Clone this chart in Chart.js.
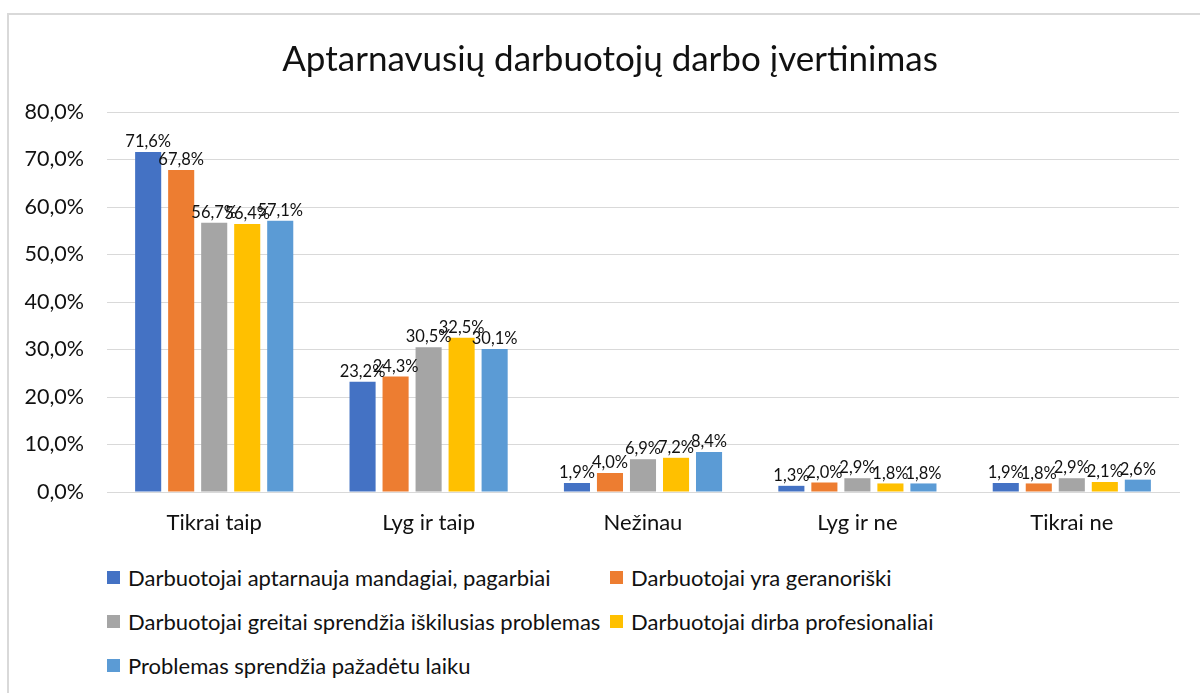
<!DOCTYPE html>
<html lang="lt">
<head>
  <meta charset="UTF-8" />
  <title>Aptarnavusių darbuotojų darbo įvertinimas</title>
  <script src="https://cdn.jsdelivr.net/npm/chart.js"></script>
  <style>
    body {
      margin: 0;
      background: #ffffff;
      font-family: 'Lato', sans-serif;
      overflow: hidden;
    }

    .frame {
      position: absolute;
      left: 7px;
      top: 13px;
      width: 1210px;
      height: 700px;
      border-left: 2px solid #d9d9d9;
      border-top: 2px solid #d9d9d9;
    }

    .chart-box {
      width: 1202px;
      height: 530px;
      position: relative;
    }

    .legend {
      display: grid;
      grid-template-columns: 503px 500px;
      grid-auto-rows: 44px;
      margin-top: 10px;
      padding-left: 98px;
      font-size: 22px;
      color: #111;
    }

    .legend-item {
      display: flex;
      align-items: center;
      white-space: nowrap;
    }

    .legend-item span.box {
      width: 13px;
      height: 13px;
      margin-right: 8px;
      flex: none;
    }
  </style>
</head>
<body>
  <div class="frame">
    <div class="chart-box"><canvas id="ratingChart"></canvas></div>
    <div class="legend" id="legend"></div>
  </div>

  <script>
    const categories = ['Tikrai taip', 'Lyg ir taip', 'Nežinau', 'Lyg ir ne', 'Tikrai ne'];
    const seriesNames = [
      'Darbuotojai aptarnauja mandagiai, pagarbiai',
      'Darbuotojai yra geranoriški',
      'Darbuotojai greitai sprendžia iškilusias problemas',
      'Darbuotojai dirba profesionaliai',
      'Problemas sprendžia pažadėtu laiku'
    ];
    const polite = [71.6, 23.2, 1.9, 1.3, 1.9];
    const friendly = [67.8, 24.3, 4.0, 2.0, 1.8];
    const quick = [56.7, 30.5, 6.9, 2.9, 2.9];
    const professional = [56.4, 32.5, 7.2, 1.8, 2.1];
    const onTime = [57.1, 30.1, 8.4, 1.8, 2.6];
    const yTicks = [0, 10, 20, 30, 40, 50, 60, 70, 80];
    const colors = ['#4472c4', '#ed7d31', '#a5a5a5', '#ffc000', '#5b9bd5'];

    const fmt = v => v.toFixed(1).replace('.', ',') + '%';
    const allSeries = [polite, friendly, quick, professional, onTime];

    // value labels above each bar
    const barLabels = {
      id: 'barLabels',
      afterDatasetsDraw(chart) {
        const ctx = chart.ctx;
        ctx.save();
        ctx.font = '16.5px Lato, sans-serif';
        ctx.fillStyle = '#111';
        ctx.textAlign = 'center';
        ctx.textBaseline = 'bottom';
        chart.data.datasets.forEach((ds, i) => {
          chart.getDatasetMeta(i).data.forEach((bar, j) => {
            ctx.fillText(fmt(ds.data[j]), bar.x, bar.y - 2);
          });
        });
        ctx.restore();
      }
    };

    new Chart(document.getElementById('ratingChart'), {
      type: 'bar',
      data: {
        labels: categories,
        datasets: allSeries.map((data, i) => ({
          label: seriesNames[i],
          data: data,
          backgroundColor: colors[i],
          categoryPercentage: 0.77,
          barPercentage: 0.79
        }))
      },
      options: {
        responsive: true,
        maintainAspectRatio: false,
        animation: false,
        layout: { padding: 0 },
        plugins: {
          legend: { display: false },
          tooltip: { enabled: false },
          title: {
            display: true,
            text: 'Aptarnavusių darbuotojų darbo įvertinimas',
            color: '#111',
            font: { family: 'Lato', size: 35, weight: 'normal' },
            padding: { top: 24, bottom: 31 }
          }
        },
        scales: {
          x: {
            grid: { display: false, drawTicks: false },
            border: { color: '#d9d9d9', width: 1 },
            ticks: { color: '#111', font: { family: 'Lato', size: 22 }, padding: 18 },
            afterFit(scale) { scale.height = 53; }
          },
          y: {
            min: 0,
            max: 80,
            afterBuildTicks(scale) { scale.ticks = yTicks.map(v => ({ value: v })); },
            grid: { color: '#d9d9d9', drawTicks: false },
            border: { display: false },
            ticks: {
              color: '#111',
              font: { family: 'Lato', size: 21.5 },
              padding: 23,
              callback: v => fmt(v)
            },
            afterFit(scale) { scale.width = 98; }
          },
          // empty axis only to keep the right margin
          spacer: {
            position: 'right',
            grid: { display: false },
            border: { display: false },
            ticks: { display: false },
            afterFit(scale) { scale.width = 32; }
          }
        }
      },
      plugins: [barLabels]
    });

    // legend laid out in two columns like the original
    const legend = document.getElementById('legend');
    seriesNames.forEach((name, i) => {
      const item = document.createElement('div');
      item.className = 'legend-item';
      item.innerHTML = '<span class="box" style="background:' + colors[i] + '"></span>' + name;
      legend.appendChild(item);
    });
  </script>
</body>
</html>
